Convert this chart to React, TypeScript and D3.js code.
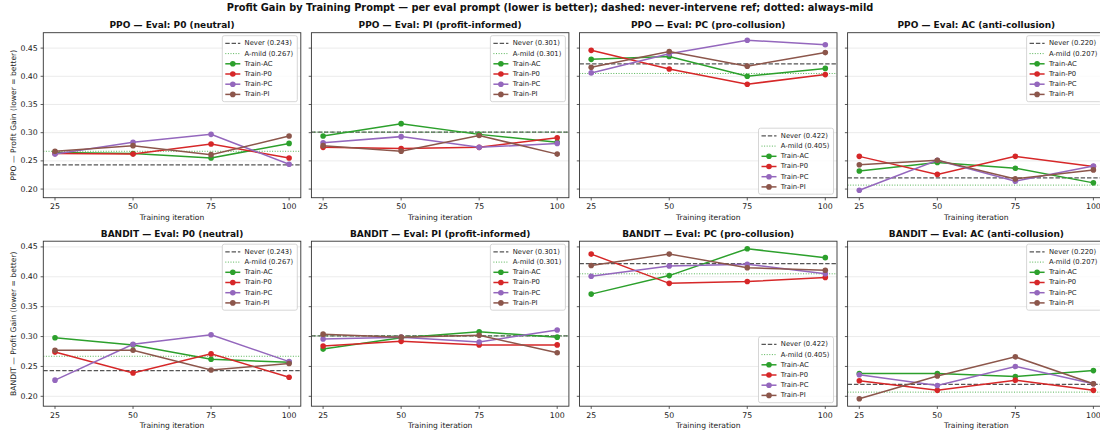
import React, { useEffect } from 'react';
import * as d3 from 'd3';

// x values and labels
const iterations = [25, 50, 75, 100];
const trainLabels = ['Train-AC', 'Train-P0', 'Train-PC', 'Train-PI'];
const trainColors = ['#2ca02c', '#d62728', '#9467bd', '#8c564b'];
const evalNames = ['P0 (neutral)', 'PI (profit-informed)', 'PC (pro-collusion)', 'AC (anti-collusion)'];
const algos = ['PPO', 'BANDIT'];

// reference lines per eval prompt
const neverRef = [0.243, 0.301, 0.422, 0.220];
const mildRef = [0.267, 0.301, 0.405, 0.207];

// series per panel: rows = Train-AC, Train-P0, Train-PC, Train-PI
const ppoEvalP0 = [
  [0.265, 0.263, 0.255, 0.281],
  [0.263, 0.262, 0.280, 0.255],
  [0.262, 0.283, 0.297, 0.244],
  [0.267, 0.277, 0.261, 0.294],
];
const ppoEvalPI = [
  [0.294, 0.316, 0.297, 0.283],
  [0.274, 0.272, 0.274, 0.291],
  [0.282, 0.293, 0.274, 0.281],
  [0.277, 0.267, 0.295, 0.262],
];
const ppoEvalPC = [
  [0.430, 0.435, 0.400, 0.414],
  [0.446, 0.413, 0.386, 0.403],
  [0.406, 0.440, 0.464, 0.456],
  [0.416, 0.444, 0.418, 0.442],
];
const ppoEvalAC = [
  [0.232, 0.247, 0.237, 0.211],
  [0.258, 0.226, 0.258, 0.240],
  [0.198, 0.251, 0.214, 0.241],
  [0.243, 0.251, 0.218, 0.234],
];
const banditEvalP0 = [
  [0.298, 0.286, 0.262, 0.257],
  [0.274, 0.239, 0.271, 0.232],
  [0.227, 0.287, 0.303, 0.258],
  [0.277, 0.277, 0.244, 0.255],
];
const banditEvalPI = [
  [0.279, 0.298, 0.308, 0.299],
  [0.284, 0.292, 0.286, 0.286],
  [0.296, 0.299, 0.291, 0.311],
  [0.304, 0.299, 0.302, 0.273],
];
const banditEvalPC = [
  [0.371, 0.402, 0.447, 0.432],
  [0.438, 0.389, 0.392, 0.399],
  [0.401, 0.418, 0.421, 0.405],
  [0.419, 0.438, 0.415, 0.411],
];
const banditEvalAC = [
  [0.238, 0.238, 0.233, 0.243],
  [0.226, 0.210, 0.227, 0.210],
  [0.236, 0.218, 0.250, 0.221],
  [0.196, 0.234, 0.266, 0.221],
];

const panels = [
  [ppoEvalP0, ppoEvalPI, ppoEvalPC, ppoEvalAC],
  [banditEvalP0, banditEvalPI, banditEvalPC, banditEvalAC],
];

const W = 1100;
const H = 434;
const font = 'DejaVu Sans, sans-serif';
const left0 = 43.3;
const colStep = 268.1;
const axW = 257.5;
const rowTop = [32.7, 241.2];
const axH = 165;

function Legend({ x0, y0, i }: { x0: number; y0: number; i: number }) {
  const items = [
    { label: `Never (${neverRef[i].toFixed(3)})`, kind: 'never', color: '#555' },
    { label: `A-mild (${mildRef[i].toFixed(3)})`, kind: 'mild', color: '#2ca02c' },
    ...trainLabels.map((l, k) => ({ label: l, kind: 'series', color: trainColors[k] })),
  ];
  return (
    <g transform={`translate(${x0},${y0})`}>
      <rect width={75} height={66} rx={2} fill="white" fillOpacity={0.8} stroke="#cccccc" strokeWidth={0.8} />
      {items.map((it, k) => {
        const y = 7.7 + k * 10.2;
        return (
          <g key={it.label}>
            {it.kind === 'never' && <line x1={3} x2={18} y1={y} y2={y} stroke="#555" strokeWidth={1.2} strokeDasharray="4.4,1.9" />}
            {it.kind === 'mild' && <line x1={3} x2={18} y1={y} y2={y} stroke="#2ca02c" strokeOpacity={0.8} strokeWidth={1} strokeDasharray="1,1.6" />}
            {it.kind === 'series' && (
              <>
                <line x1={3} x2={18} y1={y} y2={y} stroke={it.color} strokeWidth={1.5} />
                <circle cx={10.5} cy={y} r={2.8} fill={it.color} />
              </>
            )}
            <text x={22.3} y={y} dominantBaseline="central" fontSize={6.8} fill="#222">{it.label}</text>
          </g>
        );
      })}
    </g>
  );
}

function Panel({ r, c }: { r: number; c: number }) {
  const data = panels[r][c];
  const x0 = left0 + c * colStep;
  const y0 = rowTop[r];
  const all = panels[r].flat(2).concat(neverRef, mildRef);
  const [lo, hi] = d3.extent(all) as [number, number];
  const pad = (hi - lo) * 0.05;
  const y = d3.scaleLinear().domain([lo - pad, hi + pad]).range([axH, 0]);
  const xpad = (100 - 25) * 0.05;
  const x = d3.scaleLinear().domain([25 - xpad, 100 + xpad]).range([0, axW]);
  const line = d3.line<number>().x((_, k) => x(iterations[k])).y((v) => y(v));
  const yTicks = y.ticks(6);
  const fmt = d3.format('.2f');
  const lowerLegend = c === 2;
  return (
    <g transform={`translate(${x0},${y0})`} fontFamily={font}>
      <defs>
        <clipPath id={`clip${r}${c}`}>
          <rect width={axW} height={axH} />
        </clipPath>
      </defs>
      {yTicks.map((t) => (
        <line key={t} x1={0} x2={axW} y1={y(t)} y2={y(t)} stroke="#e6e6e6" strokeWidth={0.8} />
      ))}
      <g clipPath={`url(#clip${r}${c})`}>
        <line x1={0} x2={axW} y1={y(neverRef[c])} y2={y(neverRef[c])} stroke="#555" strokeWidth={1.2} strokeDasharray="4.4,1.9" />
        <line x1={0} x2={axW} y1={y(mildRef[c])} y2={y(mildRef[c])} stroke="#2ca02c" strokeOpacity={0.8} strokeWidth={1} strokeDasharray="1,1.6" />
        {data.map((s, k) => (
          <g key={k}>
            <path d={line(s) || ''} fill="none" stroke={trainColors[k]} strokeWidth={1.5} />
            {s.map((v, j) => (
              <circle key={j} cx={x(iterations[j])} cy={y(v)} r={2.8} fill={trainColors[k]} />
            ))}
          </g>
        ))}
      </g>
      <rect width={axW} height={axH} fill="none" stroke="#333" strokeWidth={0.9} />
      {yTicks.map((t) => (
        <g key={t}>
          <line x1={-2.7} x2={0} y1={y(t)} y2={y(t)} stroke="#333" strokeWidth={0.8} />
          {c === 0 && (
            <text x={-5.5} y={y(t)} textAnchor="end" dominantBaseline="central" fontSize={7.8} fill="#222">{fmt(t)}</text>
          )}
        </g>
      ))}
      {iterations.map((t) => (
        <g key={t}>
          <line x1={x(t)} x2={x(t)} y1={axH} y2={axH + 2.7} stroke="#333" strokeWidth={0.8} />
          <text x={x(t)} y={axH + 9.2} textAnchor="middle" dominantBaseline="central" fontSize={7.8} fill="#222">{t}</text>
        </g>
      ))}
      <text x={axW / 2} y={axH + 19.5} textAnchor="middle" dominantBaseline="central" fontSize={7.6} fill="#222">Training iteration</text>
      <text x={axW / 2} y={-4.6} textAnchor="middle" fontSize={9} fontWeight="bold" fill="#111">{`${algos[r]} — Eval: ${evalNames[c]}`}</text>
      {c === 0 && (
        <text transform={`translate(${-30},${axH / 2}) rotate(-90)`} textAnchor="middle" dominantBaseline="central" fontSize={7.6} fill="#222">
          {`${algos[r]} — Profit Gain (lower = better)`}
        </text>
      )}
      <Legend x0={axW - 3.5 - 75} y0={lowerLegend ? axH - 3.5 - 66 : 3} i={c} />
    </g>
  );
}

export default function App() {
  useEffect(() => {
    document.body.style.margin = '0';
  }, []);
  return (
    <svg width={W} height={H} style={{ display: 'block', background: 'white' }}>
      <rect width={W} height={H} fill="white" />
      <text x={W / 2} y={11} textAnchor="middle" fontFamily={font} fontSize={9.8} fontWeight="bold" fill="#111">
        Profit Gain by Training Prompt — per eval prompt (lower is better); dashed: never-intervene ref; dotted: always-mild
      </text>
      {algos.map((_, r) => evalNames.map((__, c) => <Panel key={`${r}-${c}`} r={r} c={c} />))}
    </svg>
  );
}
